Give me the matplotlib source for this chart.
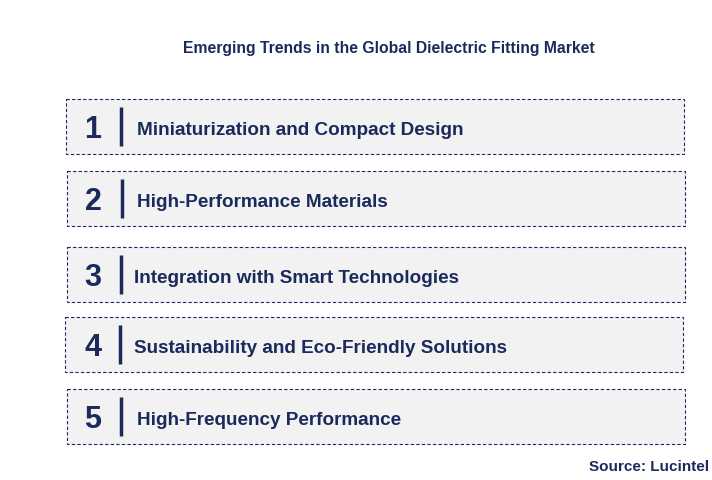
import matplotlib
matplotlib.use("Agg")
import matplotlib.pyplot as plt
from matplotlib.patches import Rectangle

title = "Emerging Trends in the Global Dielectric Fitting Market"
numbers = ["1", "2", "3", "4", "5"]
trends = [
    "Miniaturization and Compact Design",
    "High-Performance Materials",
    "Integration with Smart Technologies",
    "Sustainability and Eco-Friendly Solutions",
    "High-Frequency Performance",
]
source = "Source: Lucintel"

# layout (pixels)
box_left = [66, 67, 67, 65, 67]
box_top = [100, 172, 248, 318, 390]
box_w, box_h = 618, 55
bar_x = [121, 122, 121, 120, 121]
text_x = [137, 137, 134, 134, 137]

navy = "#1b2a5c"
plt.rcParams["font.family"] = "Liberation Sans"
fig = plt.figure(figsize=(7.12, 4.81), dpi=100)
ax = fig.add_axes([0, 0, 1, 1])
ax.set_xlim(0, 712)
ax.set_ylim(481, 0)
ax.axis("off")

ax.text(389, 49, title, ha="center", va="center", fontsize=11.3, fontweight="bold", color=navy)
for i, (n, t) in enumerate(zip(numbers, trends)):
    x, y = box_left[i], box_top[i]
    ax.add_patch(Rectangle((x, y), box_w, box_h, facecolor="#f2f2f2", edgecolor=navy,
                           linewidth=0.8, linestyle=(0, (3, 2))))
    cy = y + box_h / 2
    ax.text(93, cy + 3, n, ha="center", va="center", fontsize=22, fontweight="bold", color=navy)
    ax.plot([bar_x[i], bar_x[i]], [y + 8, y + box_h - 8], color=navy, linewidth=2.5, solid_capstyle="butt")
    ax.text(text_x[i], cy + 3, t, ha="left", va="center", fontsize=13.6, fontweight="bold", color=navy)
ax.text(709, 467, source, ha="right", va="center", fontsize=11, fontweight="bold", color=navy)
fig.savefig("out.png", dpi=100)
